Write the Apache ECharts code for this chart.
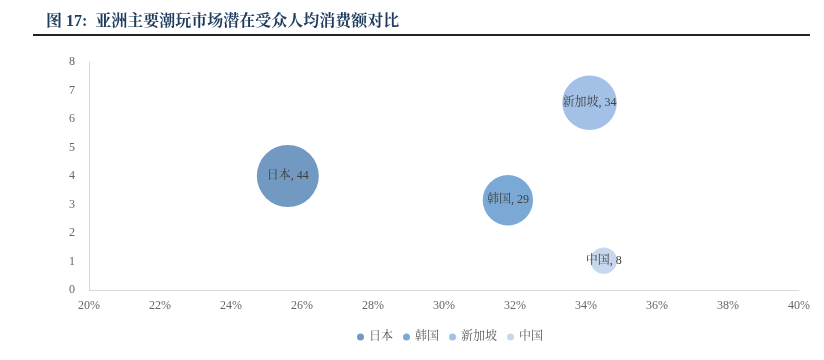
<!DOCTYPE html>
<html>
<head>
<meta charset="utf-8">
<script src="https://cdn.jsdelivr.net/npm/echarts@6/dist/echarts.min.js"></script>
<style>html,body{margin:0;padding:0;background:#fff;}#c{width:824px;height:360px;}</style>
</head>
<body>
<div id="c"></div>
<script>
const countries = ['日本', '韩国', '新加坡', '中国'];
const xShare = [25.6, 31.8, 34.1, 34.5];      // %
const yValue = [4.0, 3.15, 6.57, 1.03];
const spend = [44, 29, 34, 8];
const colors = ['#7199c2', '#7aa9d5', '#a3c1e6', '#c7d7ee'];
const xTicks = [20, 22, 24, 26, 28, 30, 32, 34, 36, 38, 40];
const yTicks = [0, 1, 2, 3, 4, 5, 6, 7, 8];

const FONT = "'Liberation Serif', 'Noto Serif CJK SC', 'Noto Sans CJK SC', serif";
const chart = echarts.init(document.getElementById('c'));
const series = countries.map((name, i) => ({
  name: name,
  type: 'scatter',
  data: [[xShare[i], yValue[i], spend[i]]],
  symbolSize: d => Math.sqrt(d[2]) * 9.35,
  itemStyle: { color: colors[i], opacity: 1 },
  label: {
    show: true,
    position: 'inside',
    formatter: p => name + ', ' + p.data[2],
    color: '#404040',
    fontFamily: FONT,
    fontSize: 12
  },
  emphasis: { disabled: true }
}));

chart.setOption({
  animation: false,
  title: {
    text: '图 17:  亚洲主要潮玩市场潜在受众人均消费额对比',
    left: 41, top: 9,
    textStyle: { fontSize: 16, fontWeight: 'bold', color: '#1f3b5e', fontFamily: FONT }
  },
  graphic: [{
    type: 'line',
    shape: { x1: 33, y1: 35, x2: 810, y2: 35 },
    style: { stroke: '#222', lineWidth: 2 }
  }],
  legend: {
    bottom: 12, left: 352,
    itemWidth: 7, itemHeight: 7, itemGap: 10,
    icon: 'circle',
    textStyle: { color: '#595959', fontFamily: FONT, fontSize: 12 },
    data: countries
  },
  grid: { left: 89, right: 25, top: 62, bottom: 70 },
  xAxis: {
    type: 'value', min: 20, max: 40, interval: 2,
    axisLine: { show: true, lineStyle: { color: '#d9d9d9' } },
    axisTick: { show: false },
    splitLine: { show: false },
    axisLabel: { formatter: v => v + '%', color: '#666666', fontFamily: FONT, fontSize: 12, margin: 10 }
  },
  yAxis: {
    type: 'value', min: 0, max: 8, interval: 1,
    axisLine: { show: true, lineStyle: { color: '#d9d9d9' } },
    axisTick: { show: false },
    splitLine: { show: false },
    axisLabel: { color: '#666666', fontFamily: FONT, fontSize: 12, margin: 14 }
  },
  series: series
});
</script>
</body>
</html>
